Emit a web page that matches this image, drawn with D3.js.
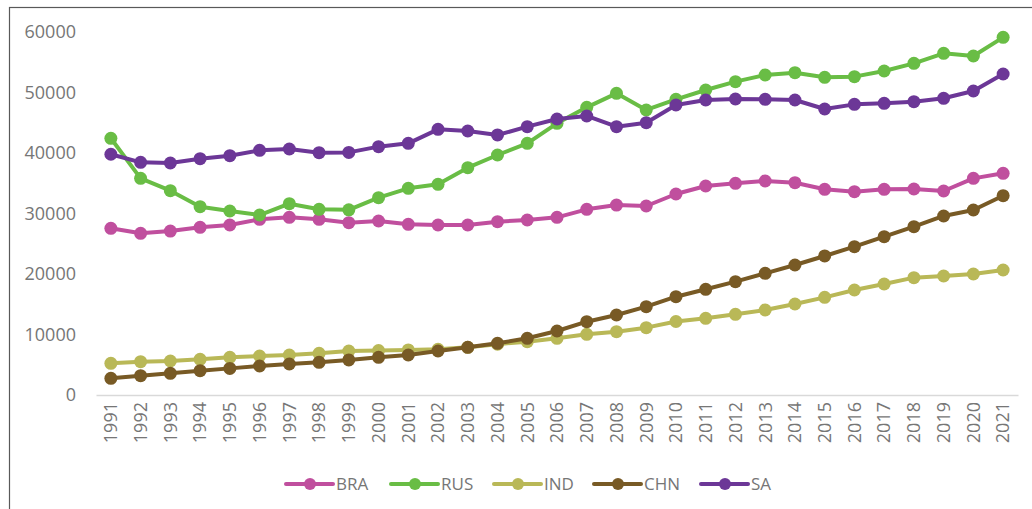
<!DOCTYPE html>
<head>
  <title>BRA RUS IND CHN SA 1991-2021</title>
  <style>
    body { margin: 0; background: #fff; }
    text { font-family: "Open Sans", sans-serif; fill: #767676; }
  </style>
</head>
<body>
  <script src="https://cdn.jsdelivr.net/npm/d3@7"></script>
  <script>
    // data
    var years = ["1991","1992","1993","1994","1995","1996","1997","1998","1999","2000",
                 "2001","2002","2003","2004","2005","2006","2007","2008","2009","2010",
                 "2011","2012","2013","2014","2015","2016","2017","2018","2019","2020","2021"];
    var yTicks = [0, 10000, 20000, 30000, 40000, 50000, 60000];
    var names = ["BRA", "RUS", "IND", "CHN", "SA"];
    var colors = ["#c04f9e", "#69bd45", "#b9b857", "#785a25", "#6c3797"];

    var bra = [27550, 26720, 27100, 27710, 28100, 29040, 29370, 29040, 28480, 28760,
               28210, 28100, 28100, 28650, 28930, 29370, 30690, 31400, 31240, 33220,
               34550, 34990, 35370, 35090, 34000, 33610, 34000, 34050, 33720, 35810, 36640];
    var rus = [42430, 35810, 33770, 31130, 30410, 29750, 31620, 30690, 30600, 32620,
               34160, 34820, 37580, 39670, 41600, 44900, 47550, 49860, 47110, 48870,
               50410, 51790, 52890, 53280, 52510, 52620, 53550, 54820, 56470, 56030, 59120];
    var ind = [5230, 5510, 5620, 5890, 6230, 6450, 6610, 6890, 7270, 7350,
               7450, 7550, 7880, 8400, 8820, 9370, 10030, 10470, 11130, 12150,
               12670, 13330, 14050, 15040, 16140, 17360, 18350, 19400, 19670, 20000, 20660];
    var chn = [2750, 3200, 3580, 4020, 4400, 4790, 5120, 5400, 5790, 6230,
               6610, 7270, 7880, 8540, 9370, 10580, 12120, 13220, 14600, 16250,
               17470, 18730, 20110, 21490, 22980, 24510, 26170, 27820, 29590, 30580, 32940];
    var sa  = [39790, 38460, 38350, 39060, 39560, 40440, 40660, 40050, 40100, 41050,
               41600, 43910, 43640, 42980, 44350, 45620, 46120, 44350, 45010, 47930,
               48760, 48930, 48870, 48760, 47270, 48040, 48210, 48480, 49040, 50250, 53060];
    var values = [bra, rus, ind, chn, sa];

    var W = 1032, H = 509;
    var svg = d3.select("body").append("svg")
        .attr("width", W)
        .attr("height", H);

    // chart frame (right and bottom edges fall outside the picture)
    svg.append("rect")
        .attr("x", 9.5).attr("y", 7.5)
        .attr("width", W + 20).attr("height", H + 20)
        .attr("fill", "none")
        .attr("stroke", "#595959")
        .attr("stroke-width", 1.2);

    var x = d3.scaleBand().domain(years).range([96, 1018]);
    var y = d3.scaleLinear().domain([0, 60000]).range([395, 32]);
    var cx = function(d) { return x(d) + x.bandwidth() / 2; };

    // y labels, no axis line
    var yAxis = svg.append("g")
        .attr("transform", "translate(96,0)")
        .call(d3.axisLeft(y).tickValues(yTicks).tickSize(0).tickPadding(20).tickFormat(d3.format("d")));
    yAxis.select(".domain").remove();
    yAxis.selectAll("text")
        .style("font-family", "'Open Sans', sans-serif")
        .style("font-size", "18px")
        .attr("fill", "#767676");

    // x axis
    var xAxis = svg.append("g")
        .attr("transform", "translate(0,395)")
        .call(d3.axisBottom(x).tickSize(0).tickPadding(0));
    xAxis.select(".domain").attr("stroke", "#d9d9d9").attr("stroke-width", 1.5);
    xAxis.selectAll("text")
        .style("font-family", "'Open Sans', sans-serif")
        .style("font-size", "18px")
        .attr("fill", "#767676")
        .attr("text-anchor", "end")
        .attr("dy", "0.35em")
        .attr("transform", "translate(0,7) rotate(-90)")
        .attr("x", 0).attr("y", 0);

    var line = d3.line()
        .x(function(d, i) { return cx(years[i]); })
        .y(function(d) { return y(d); });

    values.forEach(function(vals, k) {
      var g = svg.append("g");
      g.append("path")
          .datum(vals)
          .attr("d", line)
          .attr("fill", "none")
          .attr("stroke", colors[k])
          .attr("stroke-width", 4)
          .attr("stroke-linejoin", "round");
      g.selectAll("circle").data(vals).enter().append("circle")
          .attr("cx", function(d, i) { return cx(years[i]); })
          .attr("cy", function(d) { return y(d); })
          .attr("r", 6.5)
          .attr("fill", colors[k]);
    });

    // legend
    var legendX = [286, 391, 494, 594, 701];
    var legend = svg.append("g").attr("transform", "translate(0,484)");
    names.forEach(function(n, k) {
      var lg = legend.append("g").attr("transform", "translate(" + legendX[k] + ",0)");
      lg.append("line")
          .attr("x1", 0).attr("x2", 47)
          .attr("stroke", colors[k])
          .attr("stroke-width", 4)
          .attr("stroke-linecap", "round");
      lg.append("circle").attr("cx", 24).attr("r", 6).attr("fill", colors[k]);
      lg.append("text")
          .attr("x", 50).attr("dy", "0.35em")
          .style("font-size", "17px")
          .text(n);
    });
  </script>
</body>
